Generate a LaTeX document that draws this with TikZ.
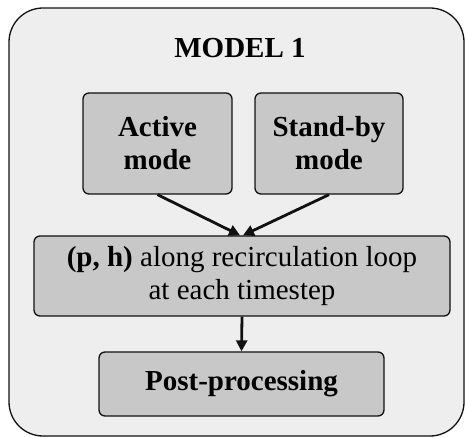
\documentclass[tikz,border=0pt]{standalone}
\usepackage{fontspec}
\setmainfont{Liberation Serif}
\usepackage{tikz}
\usetikzlibrary{arrows.meta,positioning}
\definecolor{panelgray}{HTML}{EEEEEE}
\definecolor{boxgray}{HTML}{C8C8C8}
\definecolor{inkblack}{HTML}{111111}

\begin{document}
\begin{tikzpicture}[
    x=1pt, y=1pt,
    font=\fontsize{29}{33}\selectfont,
    panel/.style={draw=inkblack, fill=panelgray, rounded corners=34pt,
                  line width=1.3pt},
    modebox/.style={draw=inkblack, fill=boxgray, rounded corners=6pt,
                  align=center, line width=1.3pt, inner sep=0pt},
    arrow/.style={-{Triangle[length=11pt,width=11pt]}, line width=2.8pt, draw=inkblack}
]
  \useasboundingbox (0,0) rectangle (466,-438);
  \draw[panel] (9,-8) rectangle (464,-436);

  \node (title) at (240,-48) {\textbf{MODEL 1}};
  \node[modebox, minimum width=149pt, minimum height=101pt] (active) at (157.5,-143.5) {\textbf{Active}\\\textbf{mode}};
  \node[modebox, minimum width=148pt, minimum height=101pt] (standby) at (329,-143.5) {\textbf{Stand-by}\\\textbf{mode}};
  \node[modebox, minimum width=416pt, minimum height=80pt] (ph) at (242,-276) {\textbf{(p, h)} along recirculation loop\\at each timestep};
  \node[modebox, minimum width=285pt, minimum height=64pt] (post) at (241.5,-384) {\textbf{Post-processing}};

  \draw[arrow] (active.south) -- ([xshift=-2pt]ph.north);
  \draw[arrow] (standby.south) -- ([xshift=1pt]ph.north);
  \draw[arrow] (ph.south) -- (post.north);
\end{tikzpicture}
\end{document}
